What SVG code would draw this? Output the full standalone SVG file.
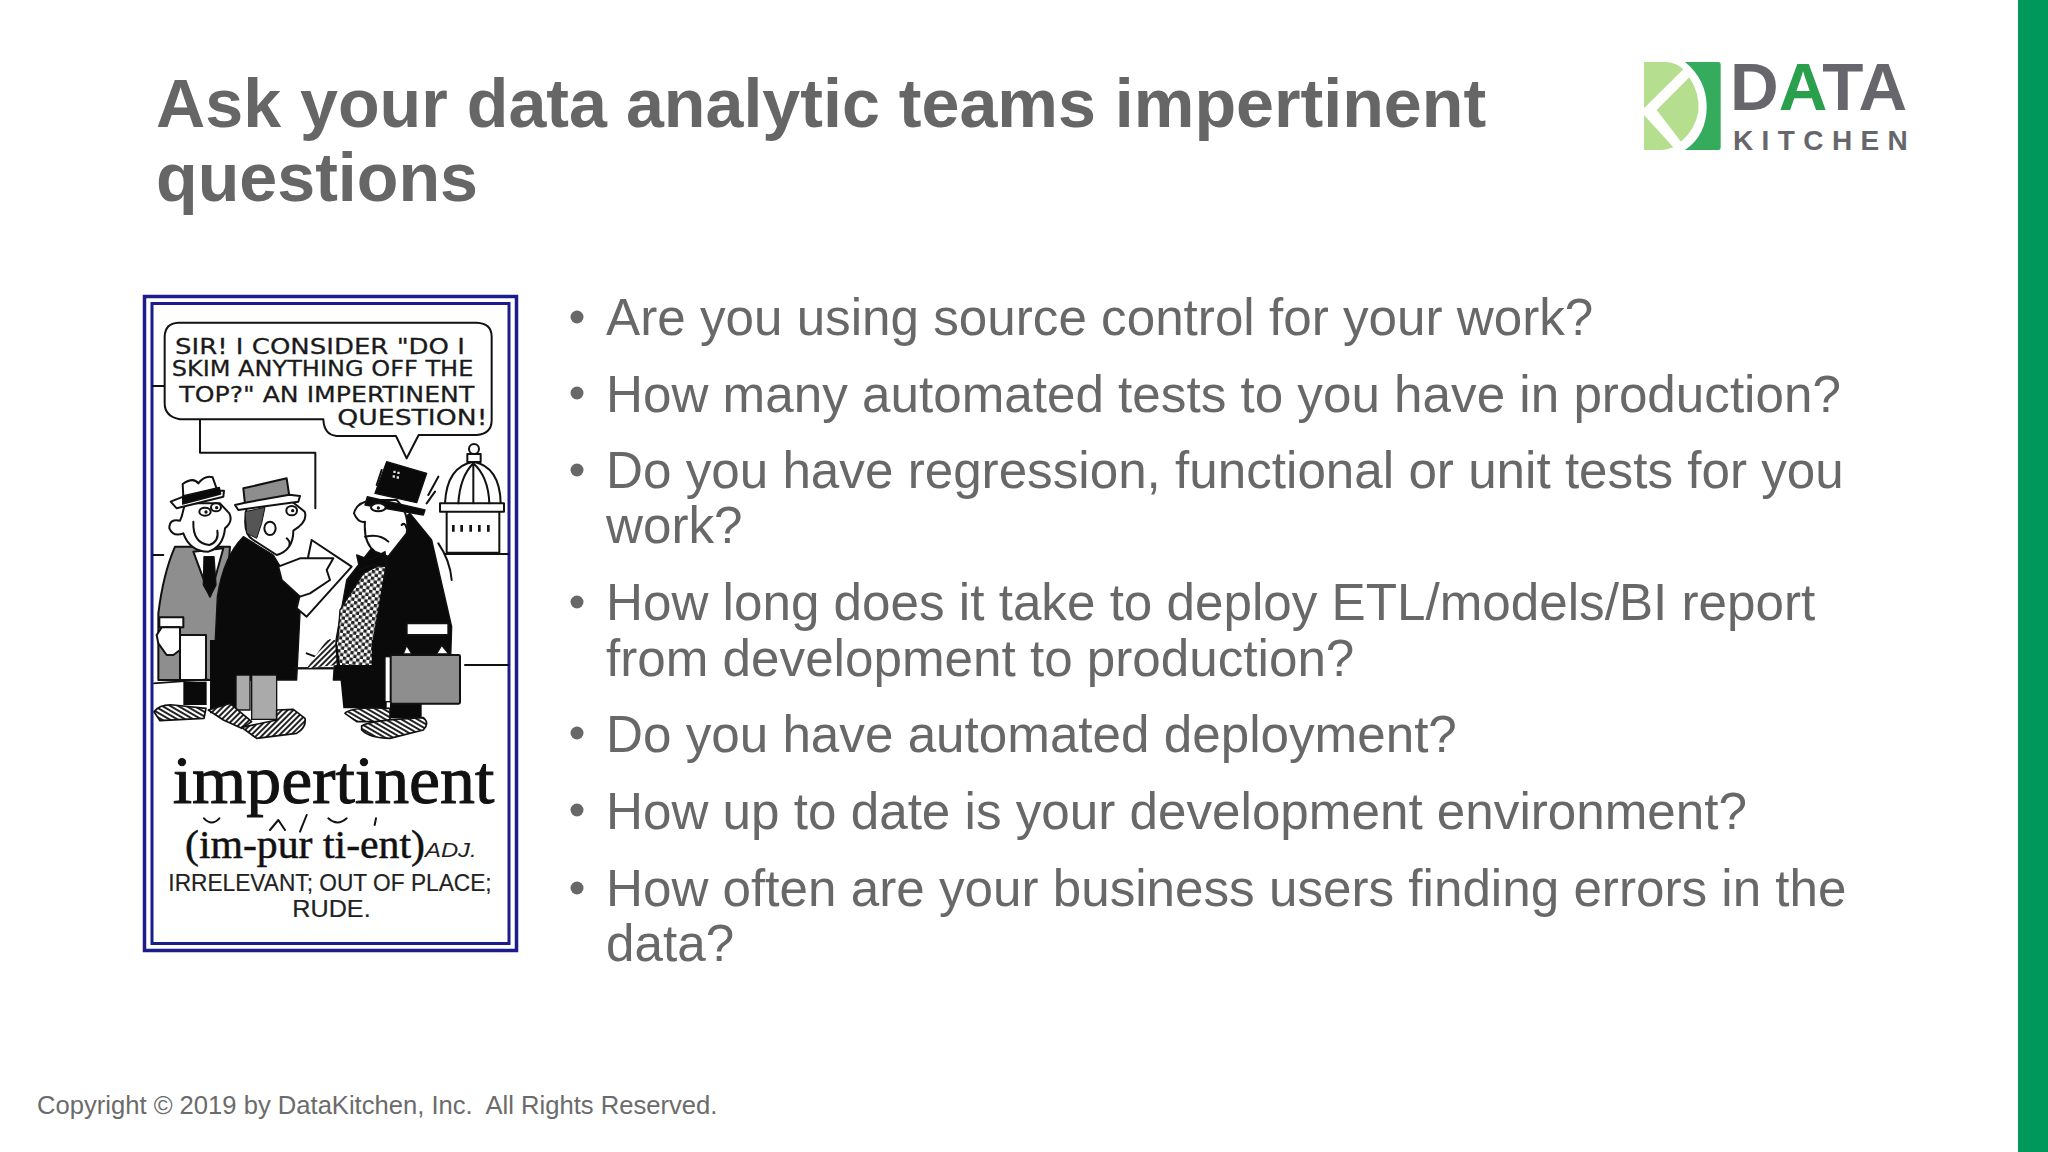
<svg xmlns="http://www.w3.org/2000/svg" width="2048" height="1152" viewBox="0 0 2048 1152">
<style>
text{font-family:"Liberation Sans",Arial,sans-serif}
.title{font-size:68.2px;font-weight:700;fill:#666}
.b{font-size:51.2px;fill:#686868}
.dot{fill:#686868}
.foot{font-size:25.6px;fill:#6b6b6b;white-space:pre}
.ink{fill:none;stroke:#111;stroke-width:6;stroke-linejoin:round;stroke-linecap:round}
.blk{fill:#0a0a0a;stroke:#111;stroke-width:4;stroke-linejoin:round}
.wht{fill:#fff;stroke:#111;stroke-width:6;stroke-linejoin:round}
.gry{fill:#8e8e8e;stroke:#111;stroke-width:6;stroke-linejoin:round}
.bub{font-size:66px;fill:#1a1a1a;stroke:#1a1a1a;stroke-width:.8;font-family:"DejaVu Sans",sans-serif}
.frame{fill:none;stroke:#1c1c8c}
.ser{font-family:"Liberation Serif",serif;fill:#111;stroke:#111}
.hat{fill:url(#hatch);stroke:#111;stroke-width:5;stroke-linejoin:round}
.hat2{fill:url(#hatch2);stroke:#111;stroke-width:5;stroke-linejoin:round}
</style>
<defs>
<pattern id="chk" width="20" height="20" patternUnits="userSpaceOnUse" patternTransform="rotate(8)"><rect width="20" height="20" fill="#fff"/><rect width="10" height="10" fill="#222"/><rect x="10" y="10" width="10" height="10" fill="#222"/></pattern>
<pattern id="hatch" width="12" height="12" patternUnits="userSpaceOnUse" patternTransform="rotate(30)"><rect width="12" height="12" fill="#fff"/><rect width="12" height="6" fill="#222"/></pattern>
<pattern id="hatch2" width="12" height="12" patternUnits="userSpaceOnUse" patternTransform="rotate(-45)"><rect width="12" height="12" fill="#fff"/><rect width="12" height="6" fill="#222"/></pattern>
</defs>
<rect width="2048" height="1152" fill="#fff"/>
<rect x="2018" y="0" width="30" height="1152" fill="#00995b"/>
<g id="title">
<text class="title" x="156" y="127">Ask your data analytic teams impertinent</text>
<text class="title" x="156" y="201">questions</text>
</g>
<g id="logo">
<g transform="translate(1620 40) scale(.33333)">
<path d="M72 66H140Q170 68 190 88L72 205ZM208 112Q240 160 235 215Q225 270 183 305L110 210ZM72 225L160 322Q140 330 125 330H72Z" fill="#b5df8f"/>
<path d="M195 66H295Q302 66 302 73V323Q302 330 295 330H195Q260 285 260 200Q260 120 195 66Z" fill="#35ab5e"/>
</g>
<text x="1730" y="110" font-size="67.400" font-weight="700" fill="#66666c">D<tspan fill="#2a9f4c">A</tspan>TA</text>
<text x="1733" y="150" font-size="28" font-weight="700" fill="#66666c" letter-spacing="8.400">KITCHEN</text>
</g>
<g id="cartoon">
<rect x="144.500" y="296.500" width="372" height="654" fill="#fff" class="frame" stroke-width="3.500"/>
<rect x="152" y="303.500" width="357" height="640" class="frame" stroke-width="3"/>
<g transform="translate(130 280) scale(.33333)">
<path class="ink" d="M68 318H104M210 420V518H556V685M70 825H100M945 822H1135M1005 1155H1135"/>
<path class="wht" d="M145 128H1040Q1085 130 1085 170V420Q1085 462 1040 465H866L830 535L798 468H620Q582 465 580 418H150Q104 410 104 370V170Q105 130 145 128Z"/>
<text class="bub" x="135" y="222" textLength="870" lengthAdjust="spacingAndGlyphs">SIR! I CONSIDER "DO I</text>
<text class="bub" x="125" y="288" textLength="905" lengthAdjust="spacingAndGlyphs">SKIM ANYTHING OFF THE</text>
<text class="bub" x="148" y="365" textLength="885" lengthAdjust="spacingAndGlyphs">TOP?" AN IMPERTINENT</text>
<text class="bub" x="622" y="436" textLength="450" lengthAdjust="spacingAndGlyphs">QUESTION!</text>
<path class="wht" d="M950 695V818H1108V695ZM930 670H1122V695H930ZM945 670Q950 560 1030 545Q1110 560 1112 670Z"/>
<path class="ink" d="M985 670Q990 590 1030 550Q1075 590 1078 670M1030 550V670"/>
<rect class="wht" x="1012" y="522" width="40" height="24"/><circle class="wht" cx="1032" cy="507" r="15"/>
<path d="M970 735v20M995 735v20M1022 735v20M1048 735v20M1075 735v20" stroke="#111" stroke-width="8" fill="none"/>
<path class="gry" d="M135 800Q100 880 85 1000V1200H270L300 800Z"/>
<path class="wht" d="M190 815L240 950L280 805Z"/>
<path class="blk" d="M222 830H252L258 915L240 950L220 915Z"/>
<path class="wht" d="M155 710L150 722Q118 715 118 745Q130 772 160 760Q180 815 235 815Q280 800 285 745Q310 725 298 700L270 670H165Z"/>
<path class="ink" d="M190 725Q188 790 238 795Q268 785 262 752"/>
<path class="wht" d="M158 612Q190 590 205 610Q225 585 248 592L262 632L282 632L280 650L140 685L122 665L160 650Z"/>
<path class="blk" d="M158 648L268 622L272 642L158 672Z"/>
<ellipse class="wht" cx="225" cy="695" rx="17" ry="12"/><ellipse class="wht" cx="258" cy="682" rx="15" ry="12"/>
<circle cx="228" cy="696" r="5" fill="#111"/><circle cx="260" cy="683" r="5" fill="#111"/>
<path class="wht" d="M88 1012H160V1042H88Z"/>
<path class="wht" d="M95 1042H150V1065L150 1110L130 1125L110 1125L85 1090L80 1065Z"/>
<rect class="wht" x="150" y="1065" width="78" height="135"/>
<path class="blk" d="M340 770Q280 830 262 950L250 1200H500L512 960L430 825Z"/>
<path class="wht" d="M350 685Q335 760 370 780L440 825Q490 810 490 752Q535 725 524 695L480 660Z"/>
<path d="M345 695L405 682L395 730L380 775L350 760Z" fill="#555" stroke="#111" stroke-width="3"/>
<path class="gry" d="M340 625L470 595L478 648L345 672Z"/>
<path class="wht" d="M315 675L345 668L478 644L510 648L505 665L325 690Z"/>
<ellipse class="wht" cx="420" cy="745" rx="17" ry="20"/><ellipse class="wht" cx="485" cy="692" rx="16" ry="14"/>
<circle cx="488" cy="692" r="5" fill="#111"/><path class="ink" d="M470 775Q482 785 478 795"/>
<path class="wht" d="M545 780L665 860L530 1010L500 985L520 900Z"/>
<path class="wht" d="M445 860L510 835L610 835L590 870L600 900L540 940L510 950L455 900Z"/>
<path class="blk" d="M760 760L650 900L618 1080L610 1200H960L965 1040L905 780L840 700Z"/>
<path d="M700 880L770 845L725 1110L622 1100L630 990Z" fill="url(#chk)" stroke="#111" stroke-width="4"/>
<path class="wht" d="M730 660Q680 665 672 700Q685 730 705 725Q700 790 735 815L775 830L830 760Q840 700 800 660Z"/>
<path class="blk" d="M680 825L720 840L765 815L770 860L725 855L690 870Z"/>
<path class="blk" d="M712 650L885 690L880 705L705 675ZM770 545L890 580L860 668L735 640Z"/>
<ellipse class="wht" cx="745" cy="682" rx="22" ry="12"/><circle cx="745" cy="684" r="5" fill="#111"/>
<path d="M790 572h7v7h-7zM802 575h7v7h-7zM788 586h7v7h-7zM800 589h7v7h-7z" fill="#ddd"/>
<path class="ink" d="M740 615L755 570M895 645L925 590M890 670L915 635M705 770Q750 760 775 785M925 790Q960 840 965 900M815 735Q825 725 830 745"/>
<path class="wht" d="M830 1030H955V1065H830Z"/>
<path class="ink" d="M530 1120L610 1150M545 1150L600 1080M490 1165H610"/>
</g>
<g transform="translate(130 640) scale(.33333)">
<path d="M620 0L770 0V205H640Z" fill="#0a0a0a"/>
<path d="M620 0L725 0V75H630Z" fill="url(#chk)"/>
<path d="M780 190H875V235H700V205H780Z" fill="#0a0a0a"/>
<path d="M820 40L830 15L845 40M920 40L935 15L955 40" fill="#fff" stroke="#111" stroke-width="5"/>
<rect x="765" y="50" width="18" height="135" fill="#fff" stroke="#111" stroke-width="4"/>
<rect x="782" y="45" width="208" height="146" rx="4" fill="#8e8e8e" stroke="#111" stroke-width="6"/>
<path d="M490 85H610M1008 75H1135M70 130L235 118" fill="none" stroke="#111" stroke-width="5"/>
<path d="M160 125H230V195H160Z" fill="#0a0a0a"/>
<path d="M240 0L490 0V90L440 100V210H365V110H320V220H240Z" fill="#0a0a0a"/>
<path d="M318 105H360V210H318ZM365 105H440V238H365Z" fill="#aaa" stroke="#111" stroke-width="4"/>
<path d="M530 85L590 0L615 0L620 75Z" fill="url(#hatch2)"/>
<path class="hat" d="M72 215Q90 192 130 195L228 205L222 235L90 242Z"/>
<path class="hat2" d="M235 210L300 190L365 245L335 265L280 240Z"/>
<path class="hat2" d="M440 210L490 208L525 235Q530 262 500 280L380 295L335 262L440 240Z"/>
<path class="hat" d="M645 220Q660 200 780 205V245H680Z"/>
<path class="hat" d="M695 258Q720 240 880 233Q900 250 880 270L780 295Q720 295 695 270Z"/>
<text class="ser" x="128" y="488" font-size="205" stroke-width="3" textLength="965" lengthAdjust="spacingAndGlyphs">impertinent</text>
<text class="ser" x="165" y="655" font-size="122" stroke-width="1.500" textLength="720" lengthAdjust="spacingAndGlyphs">(im-pur ti-ent)</text>
<text x="885" y="652" font-size="62" fill="#222" font-style="italic" textLength="155" lengthAdjust="spacingAndGlyphs">ADJ.</text>
<path class="ink" d="M222 535Q245 560 268 535M420 570L445 540L465 570M595 535Q622 560 650 535M530 525L510 575M738 535L734 555"/>
<text x="115" y="752" font-size="72" fill="#222" stroke="#222" stroke-width=".6" textLength="970" lengthAdjust="spacingAndGlyphs">IRRELEVANT; OUT OF PLACE;</text>
<text x="487" y="830" font-size="72" fill="#222" stroke="#222" stroke-width=".6" textLength="235" lengthAdjust="spacingAndGlyphs">RUDE.</text>
</g>
</g>
<g id="bullets">
<circle class="dot" cx="577" cy="317" r="6.500"/><circle class="dot" cx="577" cy="393" r="6.500"/><circle class="dot" cx="577" cy="470" r="6.500"/><circle class="dot" cx="577" cy="602" r="6.500"/><circle class="dot" cx="577" cy="733" r="6.500"/><circle class="dot" cx="577" cy="810" r="6.500"/><circle class="dot" cx="577" cy="888" r="6.500"/>
<text class="b" x="606" y="335">Are you using source control for your work?</text>
<text class="b" x="606" y="412">How many automated tests to you have in production?</text>
<text class="b" x="606" y="488">Do you have regression, functional or unit tests for you</text>
<text class="b" x="606" y="543">work?</text>
<text class="b" x="606" y="620">How long does it take to deploy ETL/models/BI report</text>
<text class="b" x="606" y="676">from development to production?</text>
<text class="b" x="606" y="752">Do you have automated deployment?</text>
<text class="b" x="606" y="829">How up to date is your development environment?</text>
<text class="b" x="606" y="906">How often are your business users finding errors in the</text>
<text class="b" x="606" y="961">data?</text>
</g>
<text id="footer" class="foot" x="37" y="1114">Copyright © 2019 by DataKitchen, Inc.  All Rights Reserved.</text>
</svg>
